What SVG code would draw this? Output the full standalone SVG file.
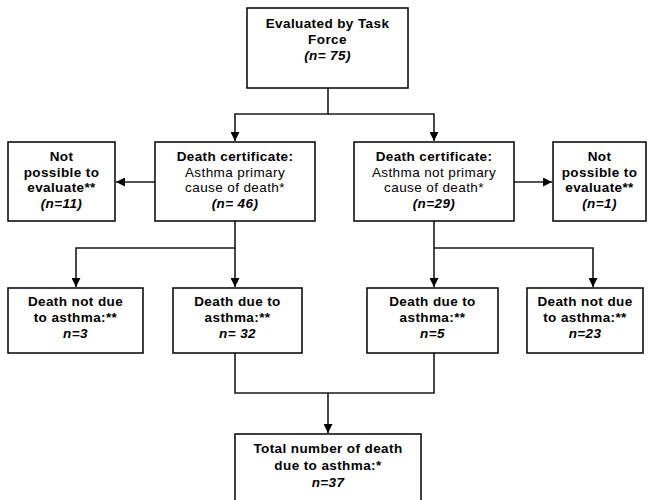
<svg xmlns="http://www.w3.org/2000/svg" width="654" height="500" viewBox="0 0 654 500">
<defs>
<style>
.box{fill:#fff;stroke:#000;stroke-width:1.5}
.con{fill:none;stroke:#1a1a1a;stroke-width:1.6}
text{font-family:"Liberation Sans",Arial,sans-serif;font-size:13.5px;text-anchor:middle;fill:#000;letter-spacing:0.4px}
.b{font-weight:bold}
.bi{font-weight:bold;font-style:italic}
</style>
<marker id="ah" markerUnits="userSpaceOnUse" markerWidth="9" markerHeight="9" refX="9" refY="4.5" orient="auto">
<path d="M0,0 L9,4.5 L0,9 z" fill="#000"/>
</marker>
</defs>
<rect width="654" height="500" fill="#fff"/>
<g id="connectors">
<path class="con" d="M328,88 V114 H235 V141" marker-end="url(#ah)"/>
<path class="con" d="M328,114 H434 V141" marker-end="url(#ah)"/>
<path class="con" d="M155,182 H116" marker-end="url(#ah)"/>
<path class="con" d="M514,182 H552" marker-end="url(#ah)"/>
<path class="con" d="M235,221 V248 H76 V287" marker-end="url(#ah)"/>
<path class="con" d="M235,248 V287" marker-end="url(#ah)"/>
<path class="con" d="M434,221 V248 V287" marker-end="url(#ah)"/>
<path class="con" d="M434,248 H593 V287" marker-end="url(#ah)"/>
<path class="con" d="M235,353 V393 H434 V353"/>
<path class="con" d="M328,393 V433" marker-end="url(#ah)"/>
</g>
<g id="n-top">
<rect class="box" x="247" y="8" width="161" height="80"/>
<text class="b" x="327.5" y="28">Evaluated by Task</text>
<text class="b" x="327.5" y="44">Force</text>
<text class="bi" x="327.5" y="60">(n= 75)</text>
</g>
<g id="n-notpos-left">
<rect class="box" x="8" y="142" width="107" height="79"/>
<text class="b" x="61.5" y="161">Not</text>
<text class="b" x="61.5" y="176.5">possible to</text>
<text class="b" x="61.5" y="192">evaluate**</text>
<text class="bi" x="61.5" y="207.5">(n=11)</text>
</g>
<g id="n-cert-primary">
<rect class="box" x="155" y="142" width="160" height="79"/>
<text class="b" x="235" y="161">Death certificate:</text>
<text x="235" y="176.5">Asthma primary</text>
<text x="235" y="192">cause of death*</text>
<text class="bi" x="235" y="207.5">(n= 46)</text>
</g>
<g id="n-cert-notprimary">
<rect class="box" x="354" y="142" width="160" height="79"/>
<text class="b" x="434" y="161">Death certificate:</text>
<text x="434" y="176.5">Asthma not primary</text>
<text x="434" y="192">cause of death*</text>
<text class="bi" x="434" y="207.5">(n=29)</text>
</g>
<g id="n-notpos-right">
<rect class="box" x="553" y="142" width="93" height="79"/>
<text class="b" x="599.5" y="161">Not</text>
<text class="b" x="599.5" y="176.5">possible to</text>
<text class="b" x="599.5" y="192">evaluate**</text>
<text class="bi" x="599.5" y="207.5">(n=1)</text>
</g>
<g id="n-notdue-left">
<rect class="box" x="8" y="288" width="135" height="65"/>
<text class="b" x="75.5" y="306">Death not due</text>
<text class="b" x="75.5" y="322">to asthma:**</text>
<text class="bi" x="75.5" y="338">n=3</text>
</g>
<g id="n-due-left">
<rect class="box" x="173" y="288" width="129" height="65"/>
<text class="b" x="237.5" y="306">Death due to</text>
<text class="b" x="237.5" y="322">asthma:**</text>
<text class="bi" x="237.5" y="338">n= 32</text>
</g>
<g id="n-due-right">
<rect class="box" x="367" y="288" width="131" height="65"/>
<text class="b" x="432.5" y="306">Death due to</text>
<text class="b" x="432.5" y="322">asthma:**</text>
<text class="bi" x="432.5" y="338">n=5</text>
</g>
<g id="n-notdue-right">
<rect class="box" x="527" y="288" width="116" height="65"/>
<text class="b" x="585" y="306">Death not due</text>
<text class="b" x="585" y="322">to asthma:**</text>
<text class="bi" x="585" y="338">n=23</text>
</g>
<g id="n-total">
<rect class="box" x="235" y="434" width="186" height="70"/>
<text class="b" x="328" y="453">Total number of death</text>
<text class="b" x="328" y="470">due to asthma:*</text>
<text class="bi" x="328" y="487">n=37</text>
</g>
</svg>
